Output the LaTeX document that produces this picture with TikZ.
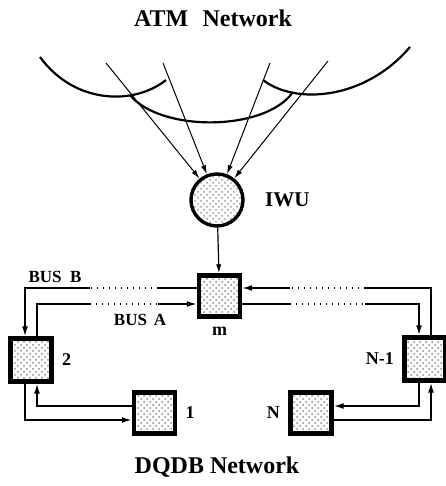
\documentclass[tikz,border=0pt]{standalone}
\usepackage{fontspec}
\setmainfont{Liberation Serif}
\usetikzlibrary{arrows.meta, positioning, calc, patterns}
\tikzset{
  station/.style={draw=black, rectangle, line width=2.2pt, minimum size=20.5pt, inner sep=0pt, preaction={fill=white}, pattern=crosshatch dots, pattern color=black!45},
  iwunode/.style={draw=black, circle, line width=1.7pt, minimum size=26pt, inner sep=0pt, preaction={fill=white}, pattern=crosshatch dots, pattern color=black!40},
  lbl/.style={font=\bfseries\fontsize{9}{10}\selectfont, inner sep=1pt},
  title/.style={font=\bfseries\fontsize{12}{14}\selectfont},
  arc/.style={line width=1.1pt},
  feed/.style={-{Latex[length=4.5pt, width=2.6pt]}, line width=0.5pt},
  bus/.style={line width=0.8pt},
  busarrow/.style={bus, -{Latex[length=5pt, width=3pt]}},
  dotline/.style={line width=0.8pt, dash pattern=on 0.7pt off 2.3pt}
}
\begin{document}
\begin{tikzpicture}[x=0.5pt, y=-0.5pt]
\useasboundingbox (0,0) rectangle (445,486);

\node[title] (atm) at (213,18) {ATM\hspace{0.6em}Network};
\node[title] (dqdb) at (217,467) {DQDB Network};

\draw[arc] (40,57) .. controls (75,105) and (135,105) .. (166,80);
\draw[arc] (130,95) .. controls (160,132) and (265,132) .. (293,92);
\draw[arc] (263,80) .. controls (295,105) and (365,100) .. (410,47);

\node[iwunode] (iwu) at (217,200) {};
\node[lbl, font=\bfseries\fontsize{10.5}{12}\selectfont, right=9pt of iwu] {IWU};

\coordinate (f1) at (106,63);
\coordinate (f2) at (163,63);
\coordinate (f3) at (270,63);
\coordinate (f4) at (328,61);
\foreach \f in {f1,f2,f3,f4}
  \draw[feed] (\f) -- (iwu);

\node[station] (m) at (219.5,296) {};
\node[station, minimum height=21.5pt] (n2) at (31,360) {};
\node[station] (n1) at (154.5,413) {};
\node[station] (nN) at (311,413) {};
\node[station, minimum height=21.5pt] (nn1) at (425,359) {};

\node[lbl, below=3pt of m] {m};
\node[lbl, right=3pt of n2] {2};
\node[lbl, right=3pt of n1] {1};
\node[lbl, left=3pt of nN] {N};
\node[lbl, left=3pt of nn1] {N-1};
\node[lbl, font=\bfseries\fontsize{8.5}{10}\selectfont] (busb) at (55,277) {BUS\hspace{0.5em}B};
\node[lbl, font=\bfseries\fontsize{8.5}{10}\selectfont] (busa) at (140,320) {BUS\hspace{0.4em}A};

\draw[feed, line width=0.6pt] (iwu) -- (m);

\coordinate (bl1) at (158,288);
\coordinate (bl2) at (90,288);
\coordinate (al1) at (158,304);
\coordinate (al2) at (90,304);
\coordinate (ar1) at (290,304);
\coordinate (ar2) at (365,304);
\coordinate (br1) at (290,288);
\coordinate (br2) at (365,288);

% bus B
\draw[bus] ($(m.west)+(0,-8)$) -- (bl1);
\draw[dotline] (bl1) -- (bl2);
\draw[busarrow] (bl2) -| ($(n2.north)+(-6,0)$);
\draw[busarrow] ($(n2.south)+(-6,0)$) |- ($(n1.west)+(0,7)$);
\draw[busarrow] ($(nN.east)+(0,7)$) -| ($(nn1.south)+(6,0)$);
\draw[bus] ($(nn1.north)+(6,0)$) |- (br2);
\draw[dotline] (br2) -- (br1);
\draw[busarrow] (br1) -- ($(m.east)+(0,-8)$);

% bus A
\draw[busarrow] ($(n1.west)+(0,-7)$) -| ($(n2.south)+(6,0)$);
\draw[bus] ($(n2.north)+(6,0)$) |- (al2);
\draw[dotline] (al2) -- (al1);
\draw[busarrow] (al1) -- ($(m.west)+(0,8)$);
\draw[bus] ($(m.east)+(0,8)$) -- (ar1);
\draw[dotline] (ar1) -- (ar2);
\draw[busarrow] (ar2) -| ($(nn1.north)+(-6,0)$);
\draw[busarrow] ($(nn1.south)+(-6,0)$) |- ($(nN.east)+(0,-7)$);

\end{tikzpicture}
\end{document}
